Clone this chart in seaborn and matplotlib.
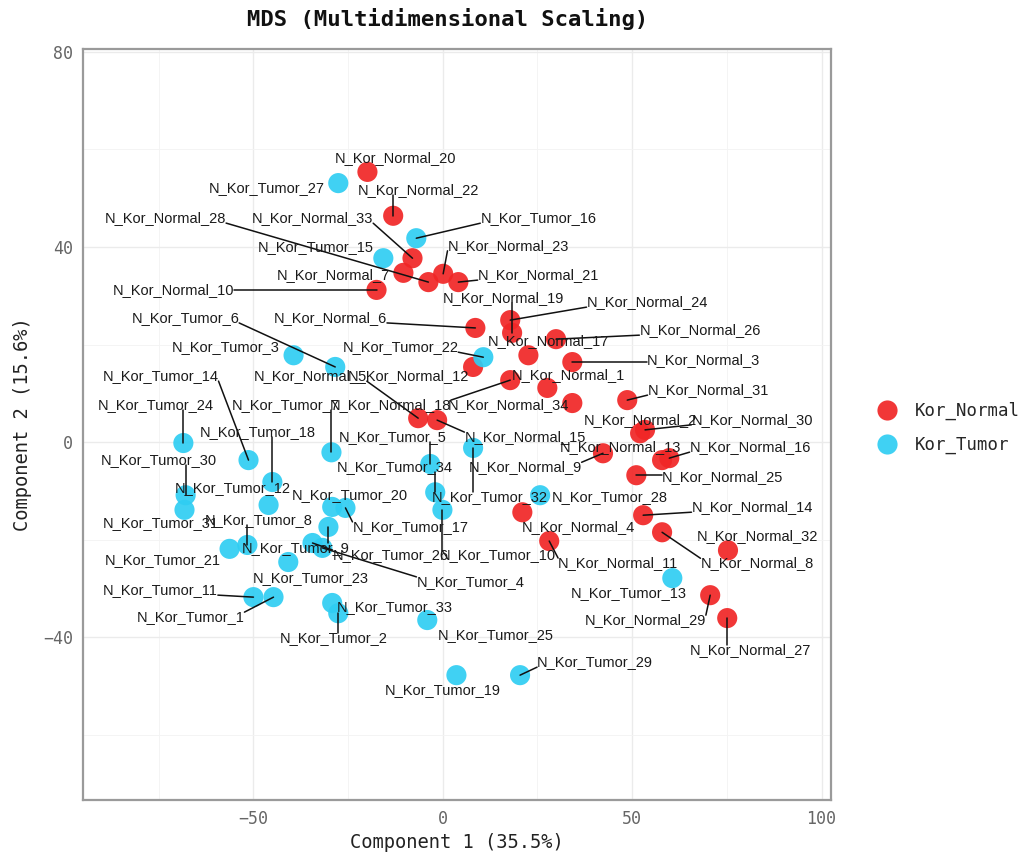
import matplotlib
matplotlib.use("Agg")
import matplotlib.pyplot as plt
from matplotlib.lines import Line2D
from matplotlib.ticker import MultipleLocator
import numpy as np
import pandas as pd
import seaborn as sns

# ---- MDS coordinates -------------------------------------------------------
normal_names = [f"N_Kor_Normal_{i}" for i in range(1, 35)]
normal_x = [27.6, 52.1, 34.2, 21.0, -6.5, 8.6, -10.4, 57.9, 42.3, -17.5,
            28.1, 8.0, 57.9, 52.9, -1.5, 59.8, 22.6, 17.8, 18.3, -19.9,
            4.1, -13.1, 0.1, 17.8, 51.1, 29.9, 75.1, -3.8, 70.6, 53.4,
            48.7, 75.3, -8.0, 34.2]
normal_y = [11.1, 1.8, 16.4, -14.4, 4.9, 23.4, 34.7, -18.5, -2.3, 31.2,
            -20.3, 15.4, -3.7, -15.0, 4.5, -3.3, 17.8, 12.7, 22.4, 55.4,
            32.8, 46.4, 34.5, 25.0, -6.8, 21.1, -36.1, 32.8, -31.4, 2.5,
            8.6, -22.2, 37.7, 8.0]

tumor_names = [f"N_Kor_Tumor_{i}" for i in range(1, 35)]
tumor_x = [-44.7, -27.6, -39.4, -31.8, -3.3, -28.4, -29.4, -51.6, -30.2, -0.1,
           -50.0, -46.0, 60.6, -51.3, -15.7, -7.0, -25.7, -45.0, 3.6, -29.2,
           -56.3, 10.7, -40.8, -68.5, -4.1, -34.4, -27.6, 25.7, 20.4, -67.9,
           -68.2, 8.0, -29.2, -2.0]
tumor_y = [-31.8, -35.1, 17.8, -21.7, -4.5, 15.4, -2.1, -21.1, -17.4, -13.9,
           -31.8, -12.9, -27.9, -3.7, 37.7, 41.8, -13.5, -8.2, -47.8, -13.3,
           -21.9, 17.4, -24.6, -0.2, -36.5, -20.7, 53.1, -10.9, -47.8, -10.9,
           -13.9, -1.2, -33.0, -10.3]

groups = ["Kor_Normal", "Kor_Tumor"]
x_label = "Component 1 (35.5%)"
y_label = "Component 2 (15.6%)"
title = "MDS (Multidimensional Scaling)"

# ---- repelled label placement (pixel offsets from each point) ------------
normal_label_dx = [21, 0, 131, 56, -108, -145, -70, 95, -78, -203,
                   69, -65, -42, 109, 88, 81, 20, -120, -9, 28,
                   80, 25, 65, 137, 86, 144, 23, -263, -65, 107,
                   81, 29, -100, -64]
normal_label_dy = [13, 13, 2, -15, 42, 10, -2, -31, -14, 0,
                   -22, -9, 13, 8, -17, 11, 14, -25, 35, 14,
                   7, 26, 28, 18, -2, 9, -32, 64, -25, 10,
                   10, 14, 40, -2]
tumor_label_dx = [-83, -5, -68, 148, -38, -150, -46, 11, -33, 55,
                  -93, -36, -44, -88, -68, 122, 65, -15, -14, 18,
                  -67, -83, 22, -28, 68, 78, -72, 70, 75, -27,
                  -24, 17, 63, -40]
tumor_label_dy = [-20, -25, 8, -34, 27, 49, 47, 25, -21, -45,
                  7, 17, -15, 84, 11, 20, -19, 50, -15, 12,
                  -11, 10, -16, 38, -15, -12, -5, -2, 13, 35,
                  -13, -49, -4, 25]

df = pd.DataFrame({
    "name": normal_names + tumor_names,
    "Component1": normal_x + tumor_x,
    "Component2": normal_y + tumor_y,
    "Group": [groups[0]] * len(normal_names) + [groups[1]] * len(tumor_names),
    "dx": normal_label_dx + tumor_label_dx,
    "dy": normal_label_dy + tumor_label_dy,
})

# ---- styling ----------------------------------------------------------------
sns.set_theme(style="white")
mono = ["DejaVu Sans Mono"]
plt.rcParams["font.family"] = mono

W, H = 1028, 855
fig = plt.figure(figsize=(W / 100, H / 100), dpi=100)
left, right, top, bottom = 83, 831, 49, 800
ax = fig.add_axes([left / W, 1 - bottom / H, (right - left) / W, (bottom - top) / H])

palette = {"Kor_Normal": "#F02626", "Kor_Tumor": "#2FCDF2"}
sns.scatterplot(data=df, x="Component1", y="Component2", hue="Group",
                hue_order=groups, palette=palette, s=210, alpha=0.92,
                linewidth=0, ax=ax, zorder=3, legend=False)

ax.set_xlim(-95, 102.5)
ax.set_ylim(-73.4, 80.6)
ax.xaxis.set_major_locator(MultipleLocator(50))
ax.xaxis.set_minor_locator(MultipleLocator(25))
ax.yaxis.set_major_locator(MultipleLocator(40))
ax.yaxis.set_minor_locator(MultipleLocator(20))
ax.grid(which="major", color="#EBEBEB", linewidth=1.0, zorder=0)
ax.grid(which="minor", color="#F3F3F3", linewidth=0.6, zorder=0)
ax.set_axisbelow(True)
for sp in ax.spines.values():
    sp.set_color("#9A9A9A")
    sp.set_linewidth(1.6)
ax.tick_params(axis="both", which="major", length=4, width=1, color="#9A9A9A",
               labelsize=12, labelcolor="#666666", direction="out", pad=3)
ax.tick_params(which="minor", length=0)

ax.set_xlabel(x_label, fontsize=13.5, color="#222222", labelpad=4)
ax.set_ylabel(y_label, fontsize=13.5, color="#222222", labelpad=8)
fig.text(448 / W, 1 - 19 / H, title, ha="center", va="center",
         fontsize=16, fontweight="bold", color="#111111")

# ---- labels with leader segments -------------------------------------------
texts = []
for _, r in df.iterrows():
    t = ax.annotate(r["name"], xy=(r["Component1"], r["Component2"]),
                    xytext=(r["dx"], r["dy"]), textcoords="offset pixels",
                    ha="center", va="center", fontsize=10.5,
                    family=["Liberation Sans"], color="#1A1A1A", zorder=6)
    texts.append(t)

fig.canvas.draw()
renderer = fig.canvas.get_renderer()
inv = ax.transData.inverted()
for t, (_, r) in zip(texts, df.iterrows()):
    bb = t.get_window_extent(renderer)
    px, py = ax.transData.transform((r["Component1"], r["Component2"]))
    nx = min(max(px, bb.x0), bb.x1)
    ny = min(max(py, bb.y0 + 2), bb.y1 - 2)
    if np.hypot(px - nx, py - ny) > 15:
        (x0, y0), (x1, y1) = inv.transform([(nx, ny), (px, py)])
        ax.add_line(Line2D([x0, x1], [y0, y1], color="#111111",
                           linewidth=1.1, zorder=5))

# ---- legend -----------------------------------------------------------------
handles = [Line2D([], [], marker="o", linestyle="", markersize=14.5,
                  markerfacecolor=palette[g], markeredgewidth=0, alpha=0.92)
           for g in groups]
fig.legend(handles, groups, loc="center left",
           bbox_to_anchor=(868 / W, 1 - 428 / H), frameon=False,
           prop={"family": mono, "size": 12.5}, handlelength=1.2,
           handletextpad=1.0, labelspacing=0.9, borderpad=0)

fig.savefig("out.png", dpi=100, facecolor="white")
